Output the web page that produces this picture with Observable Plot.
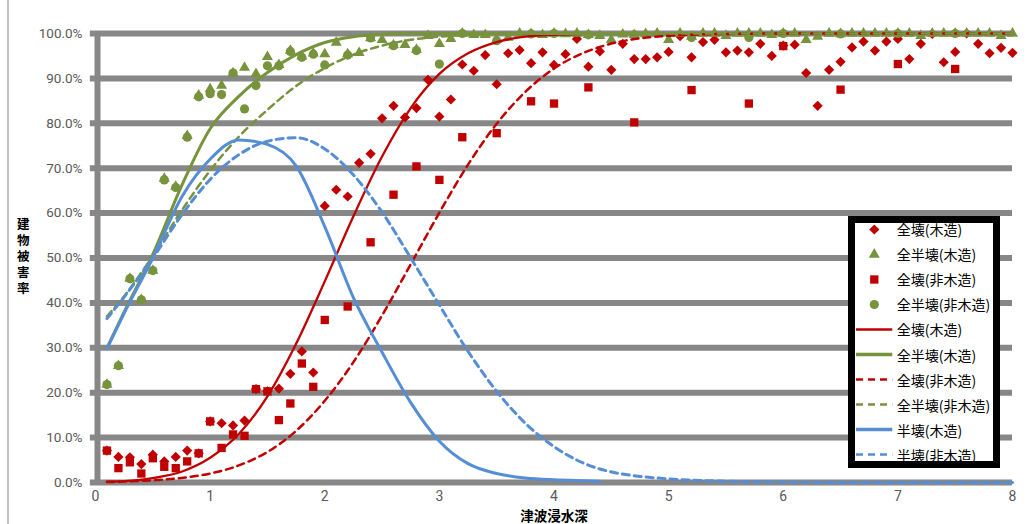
<!DOCTYPE html>
<html>
<head>
<meta charset="utf-8">
<script src="https://cdn.jsdelivr.net/npm/d3@7"></script>
<script src="https://cdn.jsdelivr.net/npm/@observablehq/plot@0.6"></script>
<style>
  html, body { margin: 0; padding: 0; background: #fff; }
  #wrap { position: relative; width: 1030px; height: 524px; overflow: hidden; background: #fff; }
  #edge { position: absolute; left: 7px; top: 0; width: 1.7px; height: 524px; background: #c4c4c4; }
  #ytitle { position: absolute; left: 22.5px; top: 257.5px; transform: translate(-50%, -50%);
            writing-mode: vertical-rl; text-orientation: upright; letter-spacing: 3.4px;
            font: bold 12.5px "Noto Sans CJK JP", sans-serif; color: #000; line-height: 1; white-space: nowrap; }
  #legend { position: absolute; left: 848px; top: 216px; width: 152px; height: 252px;
            border: 7px solid #000; box-sizing: border-box; background: #fff; overflow: hidden; }
  #legend .rows { position: absolute; left: 0; top: -6.5px; }
  #legend .row { display: flex; align-items: center; height: 25.1px; white-space: nowrap; }
  #legend .row svg { flex: none; }
  #legend .row span { margin-left: 1.7px; font: 14px "Noto Sans CJK JP", sans-serif; color: #000; }
</style>
</head>
<body>
<div id="wrap"><div id="edge"></div></div>
<script>
// ---------------- data ----------------
const xTitle = "津波浸水深";
const yTitle = "建物被害率";
const xTicks = [0, 1, 2, 3, 4, 5, 6, 7, 8];
const yTicks = [0, 10, 20, 30, 40, 50, 60, 70, 80, 90, 100];

const seriesNames = ["全壊(木造)", "全半壊(木造)", "全壊(非木造)", "全半壊(非木造)",
                     "全壊(木造)", "全半壊(木造)", "全壊(非木造)", "全半壊(非木造)",
                     "半壊(木造)", "半壊(非木造)"];

// observed points, wooden buildings (inundation depth, m)
const woodDepth = [0.1,0.2,0.3,0.4,0.5,0.6,0.7,0.8,0.9,1.0,1.1,1.2,1.3,1.4,1.5,1.6,1.7,1.8,1.9,2.0,
  2.1,2.2,2.3,2.4,2.5,2.6,2.7,2.8,2.9,3.0,3.1,3.2,3.3,3.4,3.5,3.6,3.7,3.8,3.9,4.0,
  4.1,4.2,4.3,4.4,4.5,4.6,4.7,4.8,4.9,5.0,5.1,5.2,5.3,5.4,5.5,5.6,5.7,5.8,5.9,6.0,
  6.1,6.2,6.3,6.4,6.5,6.6,6.7,6.8,6.9,7.0,7.1,7.2,7.3,7.4,7.5,7.6,7.7,7.8,7.9,8.0];
// 全壊(木造) points, %
const fullWoodPts = [7.1,5.7,5.6,4.1,6.2,4.7,5.7,7.1,6.5,13.6,13.2,12.7,13.8,20.8,20.3,20.9,24.2,29.2,24.5,61.6,
  65.2,63.7,71.2,73.2,81.1,83.9,81.3,83.4,89.7,81.5,85.3,93.1,91.7,95.2,88.7,95.6,96.3,93.4,95.8,93.0,
  95.4,98.8,92.6,96.0,91.9,97.7,94.3,94.3,94.7,95.9,99.4,94.7,98.1,98.6,95.8,96.2,95.8,97.7,95.0,97.3,
  97.5,91.2,83.9,91.9,93.7,96.9,98.2,96.2,98.2,98.8,94.3,97.7,99.9,93.6,95.9,100,97.7,95.6,96.8,95.7];
// 全半壊(木造) points, %
const fullHalfWoodPts = [21.8,26.0,45.4,40.7,47.2,67.7,65.9,77.2,86.2,87.6,88.4,91.2,92.4,91.0,94.8,93.0,96.2,94.9,95.6,95.4,
  98.0,95.4,95.7,99.0,98.6,97.4,97.5,96.4,99.5,97.7,98.8,100,99.7,99.7,98.6,99.1,100,99.9,99.7,100,
  99.9,100,99.7,99.5,98.6,99.8,99.7,99.9,100,98.6,100,99.3,100,100,99.5,100,100,100,99.7,100,
  100,98.6,99.3,100,99.9,100,100,100,100,100,100,99.5,100,100,100,100,100,100,99.5,100];

// observed points, non-wooden buildings
const nonWoodDepth = [0.1,0.2,0.3,0.4,0.5,0.6,0.7,0.8,0.9,1.0,1.1,1.2,1.3,1.4,1.5,1.6,1.7,1.8,1.9,2.0,
  2.2,2.4,2.6,2.8,3.0,3.2,3.5,3.8,4.0,4.3,4.7,5.2,5.7,6.0,6.5,7.0,7.5];
// 全壊(非木造) points, %
const fullNonWoodPts = [7.1,3.2,4.5,2.0,5.4,3.5,3.2,4.7,6.5,13.6,7.7,10.7,10.4,20.8,20.3,13.9,17.6,26.5,21.3,36.2,
  39.2,53.5,64.1,70.4,67.4,76.9,77.8,84.9,84.4,88.0,80.2,87.4,84.4,97.2,87.5,93.2,92.1];
// 全半壊(非木造) points, %
const fullHalfNonWoodPts = [21.8,26.0,45.4,40.7,47.2,67.4,65.7,76.9,85.9,86.6,86.4,91.2,83.2,88.4,92.8,92.8,96.0,94.7,95.4,93.0,
  95.2,99.0,97.3,96.2,93.2,100,98.4,99.9,100,99.7,99.7,99.1,99.1,100,99.9,100,100];

// fragility curves
const curveDepth = [0.1,0.25,0.5,0.75,1.0,1.25,1.5,1.75,2.0,2.25,2.5,2.75,3.0,3.25,3.5,3.75,4.0,4.25,4.4,5.0,5.5,6.0,6.5,7.0,7.5,8.0];
const fullWoodCurve = [0.2,0.3,1.0,2.4,5.5,10.8,19.2,30.9,44.8,59.3,72.6,83.4,91.0,95.6,98.1,99.3,99.7,99.9,100,100,100,100,100,100,100,100];
const fullHalfWoodCurve = [30.0,38.0,50.8,66.0,78.8,86.0,91.3,95.3,98.0,99.3,99.8,100,100,100,100,100,100,100,100,100,100,100,100,100,100,100];
const fullNonWoodCurve = [0.1,0.2,0.5,1.0,2.0,3.8,6.8,11.5,18.2,26.8,37.2,48.6,60.1,70.8,79.9,87.0,92.2,95.6,97.0,99.5,99.9,100,100,100,100,100];
const fullHalfNonWoodCurve = [37.0,41.5,50.5,60.5,69.5,77.0,83.0,88.3,92.3,95.3,97.3,98.6,99.3,99.7,99.9,100,100,100,100,100,100,100,100,100,100,100];
const halfWoodCurve = [29.8,37.7,50.0,63.5,72.0,76.3,75.3,70.5,57.0,41.2,29.0,17.8,9.2,4.2,2.0,1.0,0.6,0.4,0.3,null,null,null,null,null,null,null];
const halfNonWoodCurve = [36.5,41.3,50.0,59.5,67.5,73.0,76.0,76.8,74.3,68.5,60.2,50.0,39.5,29.2,20.3,13.2,8.0,4.4,3.0,0.8,0.3,0.1,0,0,0,0];

// ---------------- styles ----------------
const RED = "#C00000", GREEN = "#77933C", BLUE = "#558ED5", GRID = "#878787";
const CJK = "'Noto Sans CJK JP', sans-serif";

const pointSeries = [
  {values: fullWoodPts, depth: woodDepth, symbol: "diamond2", r: 4.6, color: RED},
  {values: fullHalfWoodPts, depth: woodDepth, symbol: "triangle", r: 4.1, color: GREEN},
  {values: fullNonWoodPts, depth: nonWoodDepth, symbol: "square", r: 4.7, color: RED},
  {values: fullHalfNonWoodPts, depth: nonWoodDepth, symbol: "circle", r: 4.6, color: GREEN}
];
const lineSeries = [
  {values: fullWoodCurve, color: RED, width: 2.3, dash: null},
  {values: fullHalfWoodCurve, color: GREEN, width: 3, dash: null},
  {values: fullNonWoodCurve, color: RED, width: 2.5, dash: "7,5"},
  {values: fullHalfNonWoodCurve, color: GREEN, width: 2.5, dash: "7,5"},
  {values: halfWoodCurve, color: BLUE, width: 3, dash: null},
  {values: halfNonWoodCurve, color: BLUE, width: 3, dash: "7,5"}
];

const marks = [
  Plot.ruleY(yTicks, {x1: -0.045, x2: 8, stroke: GRID, strokeWidth: 6}),
  Plot.ruleX([0], {y1: 0, y2: 100, stroke: GRID, strokeWidth: 6, dx: 2}),
  Plot.axisY(yTicks, {tickSize: 0, tickPadding: 13, tickFormat: d => d.toFixed(1) + "%",
                      fontSize: 13.5, fontFamily: "Roboto, sans-serif", fill: "#595959", label: null}),
  Plot.axisX(xTicks, {tickSize: 0, tickPadding: 9, tickFormat: d => String(d), fontSize: 14,
                      fontFamily: "Roboto, sans-serif", fill: "#595959", label: null}),
  Plot.text([xTitle], {text: d => d, frameAnchor: "bottom", lineAnchor: "middle", dy: 34.5,
                       fontSize: 13.5, fontWeight: "bold", fontFamily: CJK, fill: "#000"})
];

for (const s of pointSeries) {
  const rows = s.depth.map((x, i) => ({x, y: s.values[i]}));
  marks.push(Plot.dot(rows, {x: "x", y: "y", symbol: s.symbol, r: s.r, fill: s.color, stroke: "none"}));
}
for (const s of lineSeries) {
  const rows = curveDepth.map((x, i) => ({x, y: s.values[i]}));
  marks.push(Plot.line(rows, {x: "x", y: "y", stroke: s.color, strokeWidth: s.width,
                               strokeDasharray: s.dash || undefined, curve: "monotone-x"}));
}

const chart = Plot.plot({
  width: 1030,
  height: 524,
  marginLeft: 95,
  marginRight: 18,
  marginTop: 33,
  marginBottom: 42,
  x: {domain: [0, 8]},
  y: {domain: [0, 100]},
  style: {background: "transparent", fontFamily: "Roboto, sans-serif", overflow: "visible"},
  marks
});
chart.style.position = "absolute";
chart.style.left = "0px";
chart.style.top = "0px";
const wrap = document.getElementById("wrap");
wrap.appendChild(chart);

// y-axis title, upright vertical text
d3.select(wrap).append("div").attr("id", "ytitle").text(yTitle);

// ---------------- legend ----------------
const legendStyles = [
  {kind: "dot", ...pointSeries[0]},
  {kind: "dot", ...pointSeries[1]},
  {kind: "dot", ...pointSeries[2]},
  {kind: "dot", ...pointSeries[3]},
  ...lineSeries.map(s => ({kind: "line", ...s}))
];
const symbolMap = {diamond2: d3.symbolDiamond2, triangle: d3.symbolTriangle, square: d3.symbolSquare, circle: d3.symbolCircle};
const legend = d3.select(wrap).append("div").attr("id", "legend");
const rowsDiv = legend.append("div").attr("class", "rows");
seriesNames.forEach((name, i) => {
  const st = legendStyles[i];
  const row = rowsDiv.append("div").attr("class", "row");
  const svg = row.append("svg").attr("width", 40).attr("height", 25);
  if (st.kind === "dot") {
    svg.append("path")
      .attr("transform", "translate(19.3,12.5)")
      .attr("d", d3.symbol(symbolMap[st.symbol], st.r * st.r * Math.PI)())
      .attr("fill", st.color);
  } else {
    svg.append("line").attr("x1", 1).attr("x2", 37.3).attr("y1", 12.5).attr("y2", 12.5)
      .attr("stroke", st.color).attr("stroke-width", st.dash ? 2.6 : (st.color === RED ? 2.4 : 3.6))
      .attr("stroke-dasharray", st.dash || null);
  }
  row.append("span").text(name);
});
</script>
</body>
</html>
